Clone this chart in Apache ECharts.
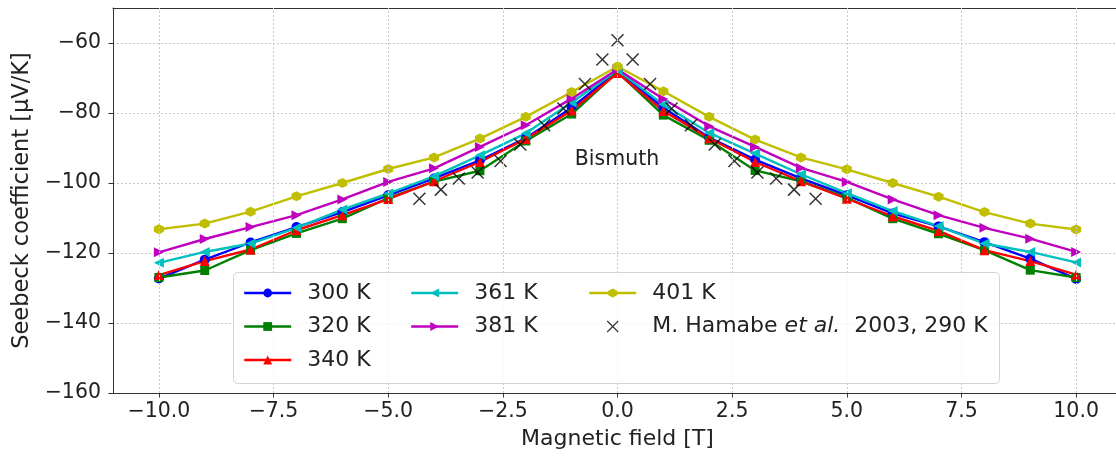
<!DOCTYPE html>
<html>
<head>
<meta charset="utf-8">
<script src="https://cdn.jsdelivr.net/npm/echarts@6/dist/echarts.min.js"></script>
<style>
html,body{margin:0;padding:0;background:#fff;}
#chart{width:1116px;height:458px;}
</style>
</head>
<body>
<div id="chart"></div>
<script>
// ---- data ----
const fieldT = [-10,-9,-8,-7,-6,-5,-4,-3,-2,-1,0,1,2,3,4,5,6,7,8,9,10];
const s300 = [-127.3,-121.9,-117.0,-112.6,-108.3,-103.5,-98.7,-93.5,-87.2,-78.5,-68.0,-78.5,-87.0,-93.3,-98.7,-103.5,-108.7,-112.4,-116.9,-121.6,-127.4];
const s320 = [-127.0,-125.0,-119.2,-114.4,-110.2,-104.3,-99.6,-96.5,-88.0,-80.3,-68.3,-80.6,-87.8,-96.4,-99.5,-104.2,-110.2,-114.5,-119.2,-124.9,-127.0];
const s340 = [-126.3,-122.3,-119.0,-113.5,-109.2,-104.6,-99.5,-94.0,-87.4,-79.3,-68.6,-79.4,-87.2,-94.0,-99.5,-104.5,-109.5,-113.7,-119.2,-122.3,-126.2];
const s361 = [-122.8,-119.7,-117.3,-112.8,-107.6,-103.0,-98.1,-92.1,-85.8,-77.0,-67.8,-77.6,-85.7,-91.6,-97.5,-102.9,-108.0,-112.3,-117.3,-119.7,-122.7];
const s381 = [-119.8,-116.0,-112.6,-109.2,-104.7,-99.7,-95.8,-89.7,-83.5,-75.9,-67.5,-76.0,-83.8,-89.7,-95.7,-99.7,-104.7,-109.2,-112.8,-115.9,-119.7];
const s401 = [-113.2,-111.6,-108.2,-103.8,-100.0,-96.0,-92.7,-87.3,-81.1,-74.0,-66.7,-73.8,-81.1,-87.6,-92.7,-96.1,-100.0,-103.9,-108.3,-111.6,-113.3];
const hamabeT = [-4.32,-3.85,-3.46,-3.05,-2.55,-2.12,-1.60,-1.18,-0.71,-0.33,0,0.33,0.71,1.18,1.60,2.12,2.55,3.05,3.46,3.85,4.32];
const hamabeS = [-104.5,-101.9,-98.7,-97.0,-93.7,-89.0,-83.5,-78.7,-71.7,-64.7,-59.2,-64.7,-71.7,-78.7,-83.5,-89.0,-93.7,-97.0,-98.7,-101.9,-104.5];
const xTicks = [-10,-7.5,-5,-2.5,0,2.5,5,7.5,10];
const yTicks = [-160,-140,-120,-100,-80,-60];
const names = ['300 K','320 K','340 K','361 K','381 K','401 K'];
const hamabeName = 'M. Hamabe et al. 2003, 290 K';
const titleX = 'Magnetic field [T]';
const titleY = 'Seebeck coefficient [μV/K]';
const annotation = 'Bismuth';

// ---- styles ----
const FONT = 'DejaVu Sans';
const colors = ['#0000ff','#008000','#ff0000','#00bfbf','#bf00bf','#bfbf00'];
const symbols = [
  'circle',
  'rect',
  'triangle',
  'path://M-1,0L1,-1L1,1Z',
  'path://M1,0L-1,-1L-1,1Z',
  'path://M0,-1L0.866,-0.5L0.866,0.5L0,1L-0.866,0.5L-0.866,-0.5Z'
];
const symSizes = [10,9,10,10,10,10];
const seriesVals = [s300,s320,s340,s361,s381,s401];
const minus = v => (v < 0 ? '\u2212' : '') + Math.abs(v);

const lineSeries = seriesVals.map((vals, i) => ({
  name: names[i],
  type: 'line',
  data: fieldT.map((t, k) => [t, vals[k]]),
  symbol: symbols[i],
  symbolSize: symSizes[i],
  showAllSymbol: true,
  lineStyle: {color: colors[i], width: 2.4},
  itemStyle: {color: colors[i]},
  z: 3,
  animation: false
}));

const gridSeries = {
  name: '_grid',
  type: 'line',
  data: [],
  z: 1,
  silent: true,
  animation: false,
  markLine: {
    silent: true,
    symbol: ['none','none'],
    label: {show: false},
    lineStyle: {color: '#c8c8c8', type: [2,2], width: 1},
    animation: false,
    data: xTicks.map(v => ({xAxis: v}))
  }
};

const hamabeSeries = {
  name: hamabeName,
  type: 'scatter',
  data: hamabeT.map((t, k) => [t, hamabeS[k]]),
  symbol: 'path://M0,0L10,10M10,0L0,10',
  symbolSize: 12,
  itemStyle: {color: '#000', borderColor: '#000', borderWidth: 1.5},
  z: 4,
  animation: false
};

const legendText = {
  fontFamily: FONT, fontSize: 22, color: '#222', lineHeight: 24,
  padding: [0,0,0,11],
  rich: {
    n: {fontFamily: FONT, fontSize: 22, color: '#222'},
    i: {fontFamily: FONT, fontSize: 22, color: '#222', fontStyle: 'italic'}
  }
};
const legendBase = {
  orient: 'vertical', top: 281, itemWidth: 47, itemHeight: 11, itemGap: 9.5,
  textStyle: legendText, z: 20, padding: 0,
  lineStyle: {width: 2.4}
};

const option = {
  backgroundColor: '#fff',
  animation: false,
  grid: {left: 113, top: 8, width: 1009, height: 385, outerBoundsMode: 'none', containLabel: false, show: false},
  xAxis: [{
    type: 'value', min: -11, max: 11,
    name: titleX, nameLocation: 'middle', nameGap: 35,
    nameTextStyle: {fontFamily: FONT, fontSize: 22, color: '#222'},
    axisLine: {show: true, onZero: false, lineStyle: {color: '#333', width: 1}},
    axisTick: {show: true, length: 4.5, customValues: xTicks, lineStyle: {color: '#333'}},
    axisLabel: {customValues: xTicks, margin: 8, fontFamily: FONT, fontSize: 20.5, color: '#222',
      formatter: v => (v < 0 ? '\u2212' : '') + Math.abs(v).toFixed(1)},
    splitLine: {show: false}
  }, {
    type: 'value', min: -11, max: 11, position: 'top',
    axisLine: {show: true, onZero: false, lineStyle: {color: '#333', width: 1}},
    axisTick: {show: false}, axisLabel: {show: false}, splitLine: {show: false}
  }],
  yAxis: {
    type: 'value', min: -160, max: -50, interval: 20,
    name: titleY, nameLocation: 'middle', nameGap: 70, nameRotate: 90,
    nameTextStyle: {fontFamily: FONT, fontSize: 22.5, color: '#222'},
    axisLine: {show: true, onZero: false, lineStyle: {color: '#333', width: 1}},
    axisTick: {show: true, length: 4.5, customValues: yTicks, lineStyle: {color: '#333'}},
    axisLabel: {customValues: yTicks, margin: 12, fontFamily: FONT, fontSize: 20.5, color: '#222',
      formatter: v => minus(v)},
    splitLine: {show: true, lineStyle: {color: '#c8c8c8', type: [2,2], width: 1}}
  },
  legend: [
    Object.assign({}, legendBase, {left: 243, data: names.slice(0,3)}),
    Object.assign({}, legendBase, {left: 410, data: names.slice(3,5)}),
    Object.assign({}, legendBase, {left: 588, data: [
      names[5],
      {name: hamabeName, itemStyle: {borderWidth: 1.2}}
    ],
      formatter: n => n === hamabeName ? '{n|M. Hamabe }{i|et al.}{n|  2003, 290 K}' : n})
  ],
  graphic: [
    {type: 'rect', z: 15, shape: {x: 233.5, y: 272.5, width: 766, height: 111, r: 4},
     style: {fill: 'rgba(255,255,255,0.8)', stroke: '#d4d4d4', lineWidth: 1}},
    {type: 'text', z: 15, x: 617, y: 160,
     style: {text: annotation, fontFamily: FONT, fontSize: 20.5, fill: '#222', align: 'center', verticalAlign: 'middle'}}
  ],
  series: [gridSeries].concat(lineSeries, [hamabeSeries])
};

const chart = echarts.init(document.getElementById('chart'), null, {renderer: 'canvas'});
chart.setOption(option);
</script>
</body>
</html>
